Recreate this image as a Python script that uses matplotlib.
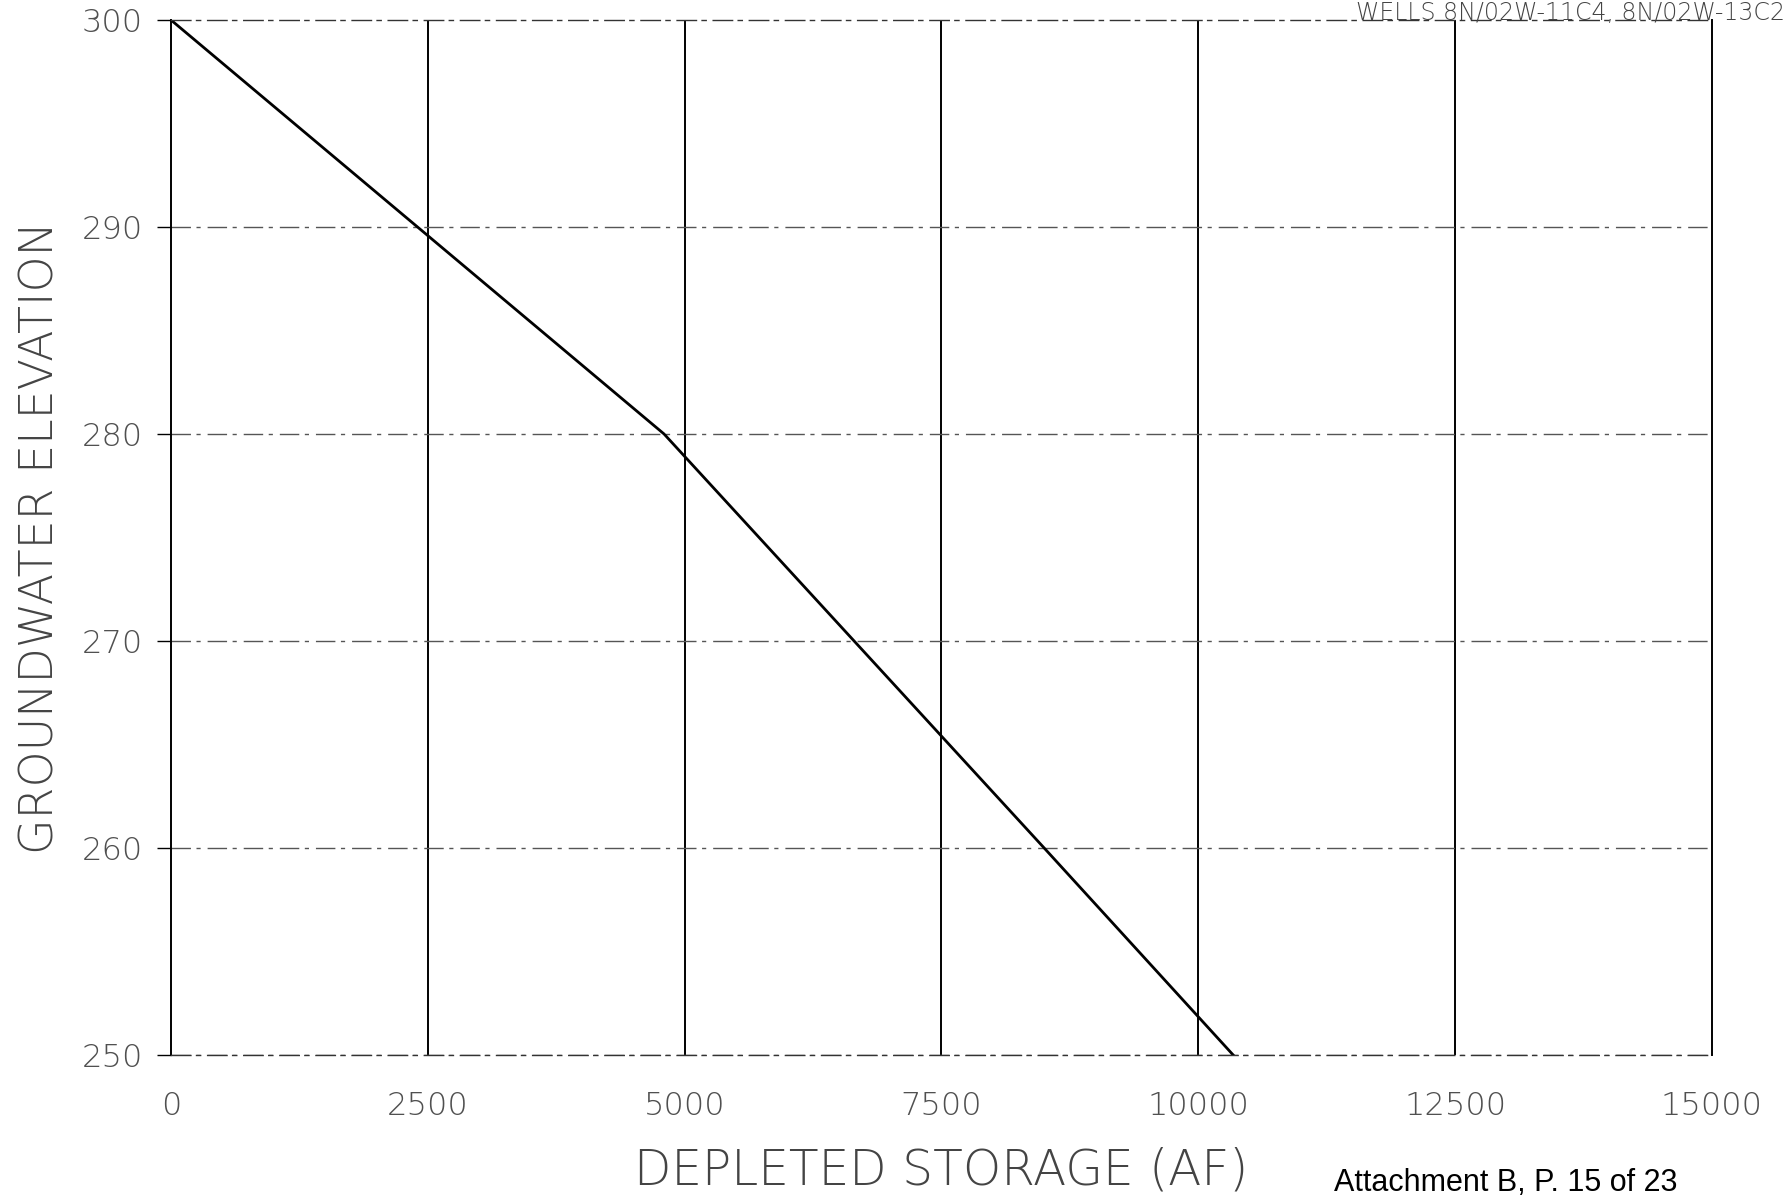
import matplotlib
matplotlib.use("Agg")
import matplotlib.pyplot as plt

# storage vs elevation curve
storage = [0, 2400, 4800, 6650, 8500, 10340]
elevation = [300, 290, 280, 270, 260, 250]

x_ticks = [0, 2500, 5000, 7500, 10000, 12500, 15000]
y_ticks = [250, 260, 270, 280, 290, 300]

fig = plt.figure(figsize=(17.9, 12.03), dpi=100)
ax = fig.add_axes([0.0955, 0.123, 0.8609, 0.8604])

# vertical grid solid, horizontal grid broken
for xv in x_ticks[1:-1]:
    ax.axvline(xv, color='black', lw=1.4)
for yv in y_ticks[:-1]:
    ax.axhline(yv, color='#555555', lw=1.0, ls=(0, (14, 4, 3, 5)))

ax.plot(storage, elevation, color='black', lw=2.0)

ax.set_xlim(0, 15000)
ax.set_ylim(250, 300)
ax.set_xticks(x_ticks)
ax.set_yticks(y_ticks)

for side in ['left', 'right']:
    ax.spines[side].set_linewidth(1.4)
    ax.spines[side].set_color('black')
for side in ['top', 'bottom']:
    ax.spines[side].set_linewidth(1.0)
    ax.spines[side].set_linestyle((0, (14, 4, 3, 5)))
    ax.spines[side].set_color('#333333')

ax.tick_params(axis='x', length=0, pad=26)
ax.tick_params(axis='y', length=10, width=1.0, pad=10)
for lab in ax.get_xticklabels() + ax.get_yticklabels():
    lab.set_fontfamily('DejaVu Sans')
    lab.set_fontweight('light')
    lab.set_fontsize(23)
    lab.set_color('#505050')

ax.set_ylabel('GROUNDWATER ELEVATION', fontsize=33, fontweight='light',
              color='#444444', labelpad=14)
ax.set_xlabel('DEPLETED STORAGE (AF)', fontsize=35, fontweight='light',
              color='#444444', labelpad=18)

# header and page note from the scanned page
fig.text(0.997, 0.9835, 'WELLS 8N/02W-11C4, 8N/02W-13C2', ha='right', va='baseline',
         fontsize=17, fontweight='light', color='#444444')
fig.text(0.745, 0.004, 'Attachment B, P. 15 of 23', ha='left', va='bottom',
         fontsize=22, family='Liberation Sans', color='black')

fig.savefig('out.png', dpi=100)
